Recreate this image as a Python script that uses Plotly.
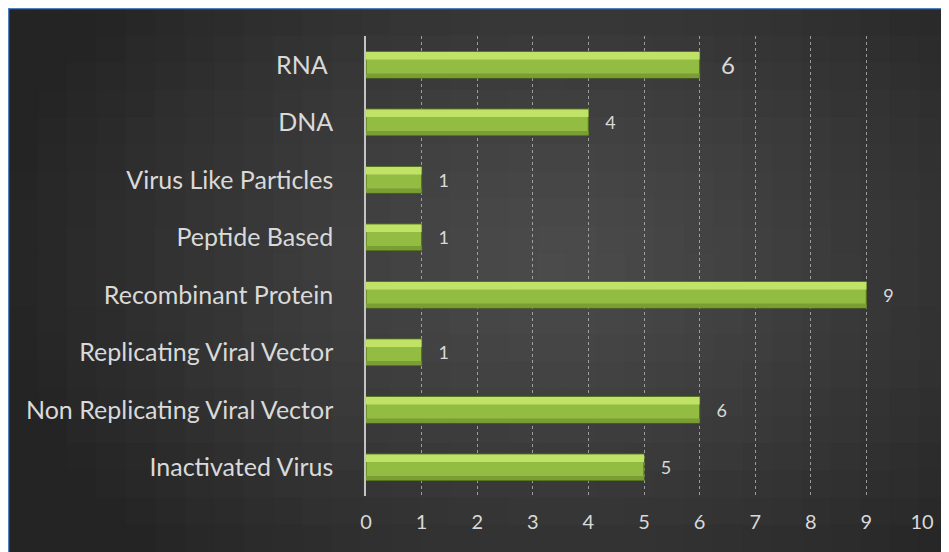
import plotly.graph_objects as go

# vaccine platforms and number of candidates
platforms = [
    "RNA ",
    "DNA",
    "Virus Like Particles",
    "Peptide Based",
    "Recombinant Protein",
    "Replicating Viral Vector",
    "Non Replicating Viral Vector",
    "Inactivated Virus",
]
counts = [6, 4, 1, 1, 9, 1, 6, 5]
label_sizes = [24, 18, 18, 18, 18, 18, 18, 18]
x_ticks = list(range(0, 11))

# the page body adds 8px on top/left, so the figure is 8px smaller
W, H = 941, 544
L, R, T, B = 358, 27, 28, 56
PW, PH = W - L - R, H - T - B


def px_x(px):
    return (px - L) / PW


def px_y(py):
    return (H - B - py) / PH


fig = go.Figure()

# bar body
fig.add_trace(
    go.Bar(
        x=counts,
        y=platforms,
        orientation="h",
        width=0.46,
        marker=dict(color="#93bd42", line=dict(color="#56731f", width=1.2)),
        text=counts,
        texttemplate="   %{text}",
        textposition="outside",
        constraintext="none",
        textfont=dict(color="#d9d9d9", size=label_sizes, family="Lato"),
        cliponaxis=False,
        hoverinfo="skip",
    )
)
# bevel highlight along the top of each bar
fig.add_trace(
    go.Bar(
        x=counts,
        y=platforms,
        orientation="h",
        width=0.13,
        offset=-0.22,
        marker=dict(color="#c0e267", line=dict(width=0)),
        hoverinfo="skip",
    )
)
# darker strip along the bottom
fig.add_trace(
    go.Bar(
        x=counts,
        y=platforms,
        orientation="h",
        width=0.07,
        offset=0.15,
        marker=dict(color="#7a9e33", line=dict(width=0)),
        hoverinfo="skip",
    )
)

# dark radial-ish background built from small tiles
shapes = []
nx, ny = 32, 20
cx, cy = 552, 252
for i in range(nx):
    for j in range(ny):
        ax = W * i / nx
        bx = W * (i + 1) / nx
        ay = H * j / ny
        by = H * (j + 1) / ny
        mx, my = (ax + bx) / 2, (ay + by) / 2
        d = (((mx - cx) / 560) ** 2 + ((my - cy) / 420) ** 2) ** 0.5
        d = min(d, 1.0)
        v = int(round(0x4b - (0x4b - 0x24) * d ** 1.2))
        col = f"rgb({v},{v},{v})"
        shapes.append(
            dict(
                type="rect",
                xref="paper",
                yref="paper",
                x0=px_x(ax),
                x1=px_x(bx) + 0.002,
                y0=px_y(ay),
                y1=px_y(by) - 0.003,
                fillcolor=col,
                line=dict(width=0),
                layer="below",
            )
        )
# blue frame on top and left edges
shapes.append(
    dict(type="line", xref="paper", yref="paper",
         x0=px_x(0), x1=px_x(W), y0=px_y(0.5), y1=px_y(0.5),
         line=dict(color="#4f81bd", width=1.5))
)
shapes.append(
    dict(type="line", xref="paper", yref="paper",
         x0=px_x(0.5), x1=px_x(0.5), y0=px_y(0), y1=px_y(H),
         line=dict(color="#4f81bd", width=1.5))
)

fig.update_layout(
    width=W,
    height=H,
    margin=dict(l=L, r=R, t=T, b=B),
    paper_bgcolor="#2a2a2a",
    plot_bgcolor="rgba(0,0,0,0)",
    barmode="overlay",
    showlegend=False,
    font=dict(family="Lato", color="#d9d9d9"),
    shapes=shapes,
    xaxis=dict(
        range=[0, 10],
        tickvals=x_ticks,
        tickfont=dict(size=20, color="#d9d9d9"),
        showgrid=True,
        gridcolor="rgba(190,190,190,0.75)",
        griddash="dot",
        gridwidth=1,
        zeroline=False,
        showline=False,
        ticks="",
        ticklabelstandoff=12,
    ),
    yaxis=dict(
        autorange="reversed",
        tickfont=dict(size=25, color="#d9d9d9"),
        showgrid=False,
        showline=True,
        linecolor="#c4c4c4",
        linewidth=1.5,
        ticks="",
        ticklabelstandoff=26,
    ),
)

fig.write_html("out.html")
